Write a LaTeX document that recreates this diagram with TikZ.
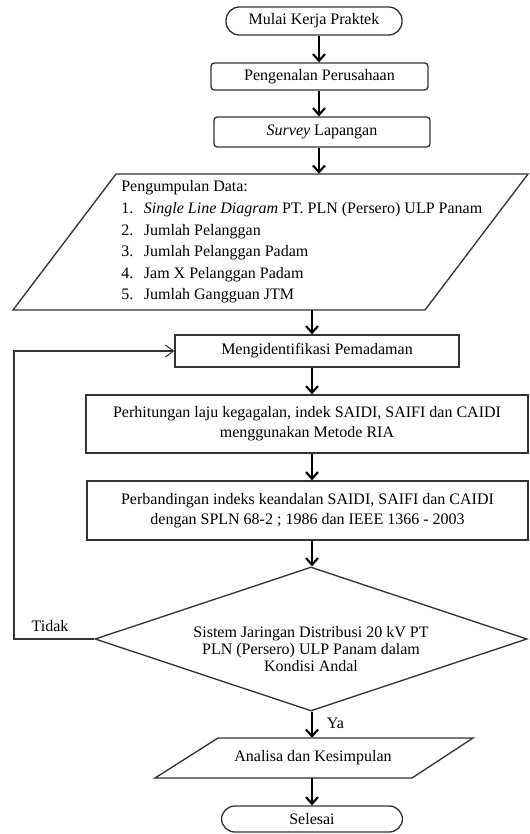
\documentclass[tikz,border=0pt]{standalone}
\usepackage{fontspec}
\setmainfont{Liberation Serif}
\usetikzlibrary{arrows.meta,shapes.geometric}
\definecolor{garis}{HTML}{333333}

\tikzset{
  bentuk/.style={draw=garis, line width=1pt},
  kotak/.style={bentuk, inner sep=0pt, align=center},
  ujung/.style={kotak, rounded corners=10pt},
  panah/.style={line width=1.6pt, -{Straight Barb[length=5pt,width=9pt]}},
  balik/.style={draw=garis, line width=0.8pt, -{Straight Barb[length=6pt,width=9pt]}},
}

\begin{document}
\begin{tikzpicture}[x=0.75pt, y=-0.75pt, font=\fontsize{12}{15}\selectfont]
  \useasboundingbox (0,0) rectangle (529,834);
  % sumbu panah
  \coordinate (sb1) at (319,0);
  \coordinate (sb2) at (312,0);
  \coordinate (kiri) at (14,639);

  \node[ujung, minimum width=132pt, minimum height=21pt] (mulai) at (314,21) {Mulai Kerja Praktek};
  \node[kotak, rounded corners=2.5pt, minimum width=162.75pt, minimum height=20.25pt] (kenal) at (319.5,76.5) {Pengenalan Perusahaan};
  \node[kotak, rounded corners=2.5pt, minimum width=162pt, minimum height=22.5pt] (survey) at (322,132) {\textit{Survey} Lapangan};

  % data masukan
  \node[anchor=west, align=left, inner sep=0pt, minimum height=102pt, font=\fontsize{12}{16.2}\selectfont] (data) at (121,242) {Pengumpulan Data:\\
    \makebox[17pt][l]{1.}\textit{Single Line Diagram} PT. PLN (Persero) ULP Panam\\
    \makebox[17pt][l]{2.}Jumlah Pelanggan\\
    \makebox[17pt][l]{3.}Jumlah Pelanggan Padam\\
    \makebox[17pt][l]{4.}Jam X Pelanggan Padam\\
    \makebox[17pt][l]{5.}Jumlah Gangguan JTM};
  \draw[bentuk] (116,174) -- (528,174) -- (425,310) -- (13,310) -- cycle;

  \node[kotak, minimum width=213pt, minimum height=24pt] (ident) at (317,351) {Mengidentifikasi Pemadaman};
  \node[kotak, minimum width=331.5pt, minimum height=43.5pt] (hitung) at (307,424) {Perhitungan laju kegagalan, indek SAIDI, SAIFI dan CAIDI\\ menggunakan Metode RIA};
  \node[kotak, minimum width=330.75pt, minimum height=44.25pt] (banding) at (307.5,510.5) {Perbandingan indeks keandalan SAIDI, SAIFI dan CAIDI\\ dengan SPLN 68-2 ; 1986 dan IEEE 1366 - 2003};

  % keputusan
  \node[bentuk, diamond, inner sep=0pt, minimum width=324pt, minimum height=108pt] (cek) at (311,639) {};
  \node[align=center, inner sep=0pt, font=\fontsize{12}{12.5}\selectfont] (cektxt) at (311,649) {Sistem Jaringan Distribusi 20 kV PT\\ PLN (Persero) ULP Panam dalam\\ Kondisi Andal};
  \node (tidak) at (50,626) {Tidak};

  \node[inner sep=0pt, minimum height=30pt] (analisa) at (313,758) {Analisa dan Kesimpulan};
  \draw[bentuk] (218,738) -- (473,738) -- (412,778) -- (155,778) -- cycle;

  \node[ujung, minimum width=135.75pt, minimum height=19.5pt] (selesai) at (312,819) {Selesai};

  % panah alur
  \draw[panah] (mulai.south -| sb1) -- (kenal.north -| sb1);
  \draw[panah] (kenal.south -| sb1) -- (survey.north -| sb1);
  \draw[panah] (survey.south -| sb1) -- (data.north -| sb1);
  \draw[panah] (data.south -| sb2) -- (ident.north -| sb2);
  \draw[panah] (ident.south -| sb2) -- (hitung.north -| sb2);
  \draw[panah] (hitung.south -| sb2) -- (banding.north -| sb2);
  \draw[panah] (banding.south -| sb2) -- (cek.north -| sb2);
  \draw[panah] (cek.south -| sb2) -- (analisa.north -| sb2) node[midway, right=7pt, yshift=1pt] {Ya};
  \draw[panah] (analisa.south -| sb2) -- (selesai.north -| sb2);
  \draw[balik] (cek.west) -- (kiri) |- (ident.west);
\end{tikzpicture}
\end{document}
